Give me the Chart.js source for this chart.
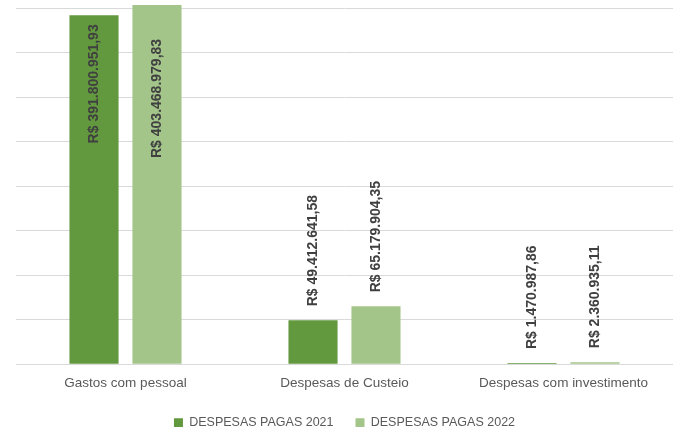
<!DOCTYPE html>
<html>
<head>
<meta charset="utf-8">
<script src="https://cdn.jsdelivr.net/npm/chart.js@4/dist/chart.umd.min.js"></script>
<style>
  html, body { margin: 0; padding: 0; background: #ffffff; }
  #wrap { width: 673px; height: 427px; }
</style>
</head>
<body>
<div id="wrap"><canvas id="despesasChart" width="673" height="427"></canvas></div>
<script>
// Chart data
const categories = ['Gastos com pessoal', 'Despesas de Custeio', 'Despesas com investimento'];
const seriesNames = ['DESPESAS PAGAS 2021', 'DESPESAS PAGAS 2022'];
const pagas2021 = [391800951.93, 49412641.58, 1470987.86];
const pagas2022 = [403468979.83, 65179904.35, 2360935.11];

const barColors = ['#62993E', '#A3C58A'];
const insideOffsets = [9, 34];

// Format a number as R$ 1.234.567,89
function formatReal(value) {
  const parts = value.toFixed(2).split('.');
  const intPart = parts[0].replace(/\B(?=(\d{3})+(?!\d))/g, '.');
  return 'R$ ' + intPart + ',' + parts[1];
}

// Draw rotated value labels over / inside the bars
const valueLabels = {
  id: 'valueLabels',
  afterDatasetsDraw(chart) {
    const ctx = chart.ctx;
    ctx.save();
    ctx.font = 'bold 14px "Liberation Sans", Arial, sans-serif';
    ctx.fillStyle = '#404040';
    ctx.textBaseline = 'middle';
    chart.data.datasets.forEach((dataset, i) => {
      const meta = chart.getDatasetMeta(i);
      meta.data.forEach((bar, j) => {
        const text = formatReal(dataset.data[j]);
        const w = ctx.measureText(text).width;
        const gap = 14;
        ctx.save();
        if (bar.y - gap - w < 0) {
          ctx.translate(bar.x, bar.y + insideOffsets[i]);
          ctx.rotate(-Math.PI / 2);
          ctx.textAlign = 'right';
        } else {
          ctx.translate(bar.x, bar.y - gap);
          ctx.rotate(-Math.PI / 2);
          ctx.textAlign = 'left';
        }
        ctx.fillText(text, 0, 0);
        ctx.restore();
      });
    });
    ctx.restore();
  }
};

const ctx = document.getElementById('despesasChart').getContext('2d');

new Chart(ctx, {
  type: 'bar',
  data: {
    labels: categories,
    datasets: [
      {
        label: seriesNames[0],
        data: pagas2021,
        backgroundColor: barColors[0],
        categoryPercentage: 0.575,
        barPercentage: 0.78,
        clip: false,
      },
      {
        label: seriesNames[1],
        data: pagas2022,
        backgroundColor: barColors[1],
        categoryPercentage: 0.575,
        barPercentage: 0.78,
        clip: false,
      },
    ],
  },
  options: {
    responsive: false,
    animation: false,
    layout: { padding: { left: 16, right: 0, top: 8, bottom: -12 } },
    plugins: {
      tooltip: { enabled: false },
      legend: {
        position: 'bottom',
        labels: {
          boxWidth: 9,
          boxHeight: 9,
          padding: 22,
          color: '#595959',
          font: { family: '"Liberation Sans", Arial, sans-serif', size: 12.5 },
        },
      },
    },
    scales: {
      x: {
        grid: { display: false },
        border: { color: '#D9D9D9' },
        ticks: {
          color: '#595959',
          padding: 3,
          font: { family: '"Liberation Sans", Arial, sans-serif', size: 13.5 },
        },
      },
      y: {
        min: 0,
        max: 400000000,
        ticks: { display: false, stepSize: 50000000 },
        border: { display: false },
        grid: { drawTicks: false, color: '#D9D9D9' },
      },
    },
  },
  plugins: [valueLabels],
});
</script>
</body>
</html>
